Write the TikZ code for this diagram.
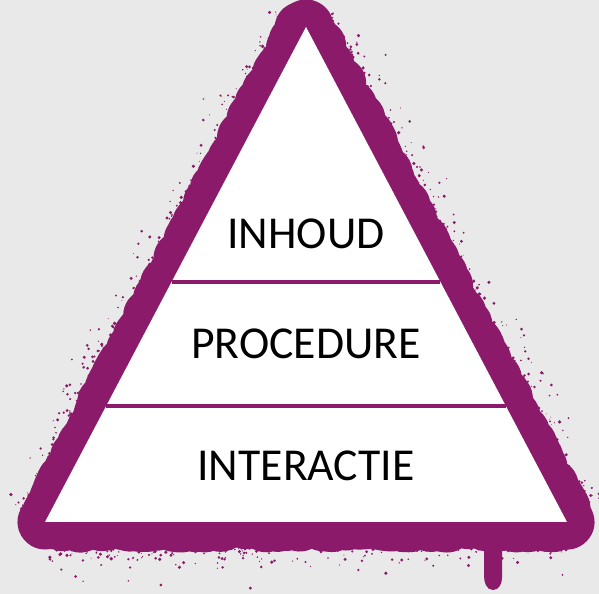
\documentclass[tikz,border=0pt]{standalone}
\usepackage{fontspec}
\setmainfont{Carlito}
\usetikzlibrary{calc,decorations.pathmorphing}
\definecolor{spray}{RGB}{139,26,106}
\definecolor{wall}{RGB}{233,233,233}
\def\pyramid{(apex) -- (left) -- (right) -- cycle}
\tikzset{
    layer/.style={font=\fontsize{26}{30}\selectfont, text=black},
    divider/.style={spray, line width=0.095cm},
    paint/.style={spray, line width=1.1cm, line join=round, decorate,
        decoration={random steps, segment length=3pt, amplitude=1.8pt}}
}

\begin{document}
\begin{tikzpicture}[x=0.02cm,y=-0.02cm]
    \fill[wall] (0,0) rectangle (599,594);
    \useasboundingbox (0,0) rectangle (599,594);
    \coordinate (apex) at (306,27);
    \coordinate (left) at (45,522);
    \coordinate (right) at (567,522);
    % spray paint border
    \draw[paint] \pyramid;
    \fill[spray] (484,540) -- (484,576) to[out=-90,in=180] (493,590)
        to[out=0,in=-90] (502,578) -- (502,540) -- cycle;
    \pgfmathsetseed{42}
    \foreach \i in {1,...,260} {
        \pgfmathsetmacro{\t}{rnd}
        \pgfmathsetmacro{\d}{26+rnd*rnd*rnd*40}
        \pgfmathsetmacro{\r}{0.4+rnd*1.4}
        \fill[spray] ($(apex)!\t!(left) + (-0.884*\d,-0.466*\d)$) circle (\r);
        \pgfmathsetmacro{\t}{rnd}
        \pgfmathsetmacro{\d}{26+rnd*rnd*rnd*40}
        \fill[spray] ($(apex)!\t!(right) + (0.884*\d,-0.466*\d)$) circle (\r);
        \pgfmathsetmacro{\t}{rnd}
        \pgfmathsetmacro{\d}{26+rnd*rnd*rnd*48}
        \fill[spray] ($(left)!\t!(right) + (0,\d)$) circle (\r);
    }
    \fill[white] \pyramid;
    % layers
    \coordinate (l1) at ($(apex)!0.5152!(left)$);
    \coordinate (r1) at ($(apex)!0.5152!(right)$);
    \coordinate (l2) at ($(apex)!0.7657!(left)$);
    \coordinate (r2) at ($(apex)!0.7657!(right)$);
    \draw[divider] (l1) -- (r1);
    \draw[divider] (l2) -- (r2);
    \node[layer] (inhoud) at (306,234) {INHOUD};
    \node[layer] (procedure) at (306,344) {PROCEDURE};
    \node[layer] (interactie) at (306,466) {INTERACTIE};
\end{tikzpicture}
\end{document}
